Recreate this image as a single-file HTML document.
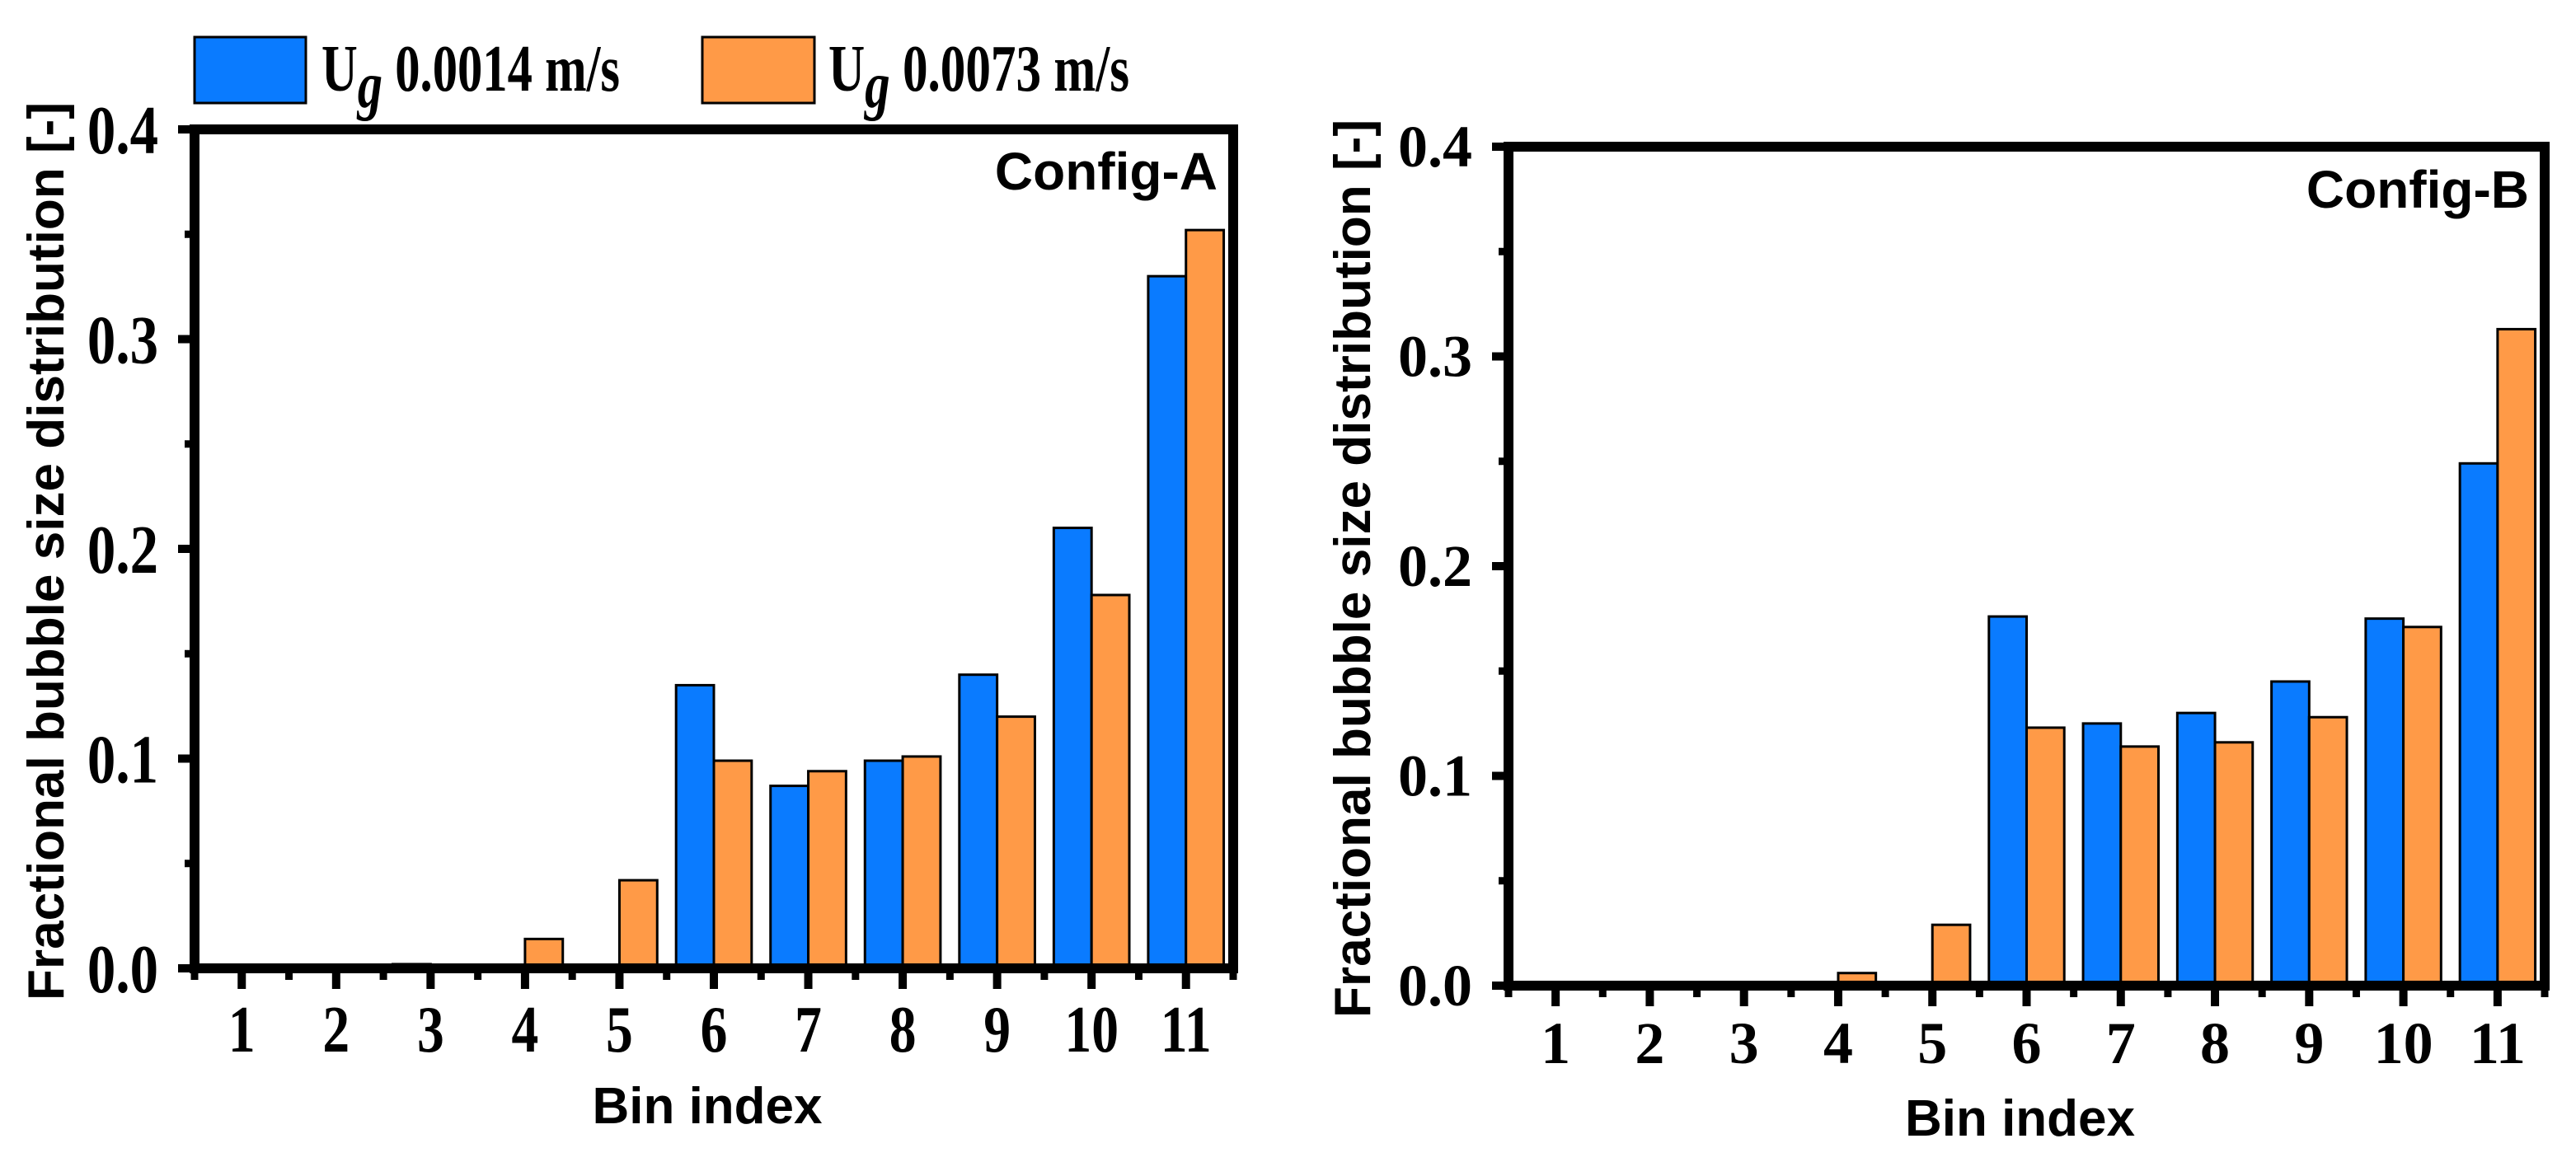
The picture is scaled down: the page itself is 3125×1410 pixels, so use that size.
<!DOCTYPE html>
<html><head><meta charset="utf-8">
<style>
html,body{margin:0;padding:0;background:#fff;}
svg{display:block;}
.tm{font-family:"Liberation Serif",serif;font-weight:bold;}
.ar{font-family:"Liberation Sans",sans-serif;font-weight:bold;}
</style></head>
<body>
<svg id="chart" width="3125" height="1410" viewBox="0 0 3125 1410" xmlns="http://www.w3.org/2000/svg">
  <g>
    <rect x="236" y="45" width="135" height="80" fill="#0A7BFF" stroke="#000" stroke-width="3"/>
    <text class="tm" x="390" y="110" font-size="80" textLength="362" lengthAdjust="spacingAndGlyphs">U<tspan font-style="italic" dy="20">g</tspan><tspan dy="-20"> 0.0014 m/s</tspan></text>
    <rect x="852" y="45" width="136" height="80" fill="#FF9A47" stroke="#000" stroke-width="3"/>
    <text class="tm" x="1005" y="110" font-size="80" textLength="365" lengthAdjust="spacingAndGlyphs">U<tspan font-style="italic" dy="20">g</tspan><tspan dy="-20"> 0.0073 m/s</tspan></text>
  </g>
  <g id="panelA"></g>
  <g id="panelB"></g>
</svg>
<script>
const categories = ["1","2","3","4","5","6","7","8","9","10","11"];
const yTicks = [0, 0.1, 0.2, 0.3, 0.4];
const yTickLabels = ["0.0","0.1","0.2","0.3","0.4"];
const configA_low  = [0, 0, 0.002, 0, 0, 0.135, 0.087, 0.099, 0.140, 0.210, 0.330];
const configA_high = [0, 0, 0.001, 0.014, 0.042, 0.099, 0.094, 0.101, 0.120, 0.178, 0.352];
const configB_low  = [0, 0, 0, 0, 0, 0.176, 0.125, 0.130, 0.145, 0.175, 0.249];
const configB_high = [0, 0, 0, 0.006, 0.029, 0.123, 0.114, 0.116, 0.128, 0.171, 0.313];

const NS = "http://www.w3.org/2000/svg";
function mk(tag, attrs, parent){
  const e = document.createElementNS(NS, tag);
  for (const k in attrs) e.setAttribute(k, attrs[k]);
  parent.appendChild(e);
  return e;
}

function drawPanel(g, opt, low, high){
  const L=opt.left, R=opt.right, T=opt.top, B=opt.bottom;
  const n = categories.length;
  const xs = v => L + (v - 0.5) / n * (R - L);
  const ys = v => B - v / 0.4 * (B - T);
  const bw = 0.4 * (R - L) / n;
  for (let i=0;i<n;i++){
    const cx = xs(i+1);
    const r1 = mk("rect",{x:cx-bw, y:ys(low[i]), width:bw, height:Math.max(0,B-ys(low[i])), fill:"#0A7BFF", stroke:"#000", "stroke-width":3}, g);
    
    
    const r2 = mk("rect",{x:cx, y:ys(high[i]), width:bw, height:Math.max(0,B-ys(high[i])), fill:"#FF9A47", stroke:"#000", "stroke-width":3}, g);
    
    
  }
  const fr = mk("rect",{x:L, y:T, width:R-L, height:B-T, fill:"none", stroke:"#000", "stroke-width":12}, g);
  
  
  for (let i=0;i<yTicks.length;i++){
    const y = ys(yTicks[i]);
    const t = mk("line",{x1:L-20, x2:L, y1:y, y2:y, stroke:"#000", "stroke-width":10}, g);
    
    
    const lb = mk("text",{x:0, y:0, "text-anchor":"end", "font-size":opt.yFont, class:"tm",
      transform:"translate("+(L-44)+","+(y+opt.yLabDy)+") scale("+opt.sx+",1)"}, g);
    lb.textContent = yTickLabels[i];
    
    
    if (i < yTicks.length-1){
      const ym = ys((yTicks[i]+yTicks[i+1])/2);
      const m = mk("line",{x1:L-12, x2:L, y1:ym, y2:ym, stroke:"#000", "stroke-width":9}, g);
      
      
    }
  }
  for (let i=0;i<n;i++){
    const x = xs(i+1);
    const t = mk("line",{x1:x, x2:x, y1:B, y2:B+25, stroke:"#000", "stroke-width":10}, g);
    
    
    const lb = mk("text",{x:0, y:0, "text-anchor":"middle", "font-size":opt.xFont, class:"tm",
      transform:"translate("+x+","+opt.xLabY+") scale("+opt.sx+",1)"}, g);
    lb.textContent = categories[i];
    
    
  }
  for (let i=0;i<=n;i++){
    const x = xs(i+0.5);
    const m = mk("line",{x1:x, x2:x, y1:B, y2:B+14, stroke:"#000", "stroke-width":9}, g);
    
    
  }
  const xt = mk("text",{x:(L+R)/2-8, y:opt.xTitleY, "text-anchor":"middle", "font-size":62, class:"ar"}, g);
  xt.textContent = "Bin index";
  
  
  const yt = mk("text",{x:0, y:0, "text-anchor":"middle", "font-size":62, class:"ar", textLength:1090, lengthAdjust:"spacingAndGlyphs",
    transform:"translate("+(opt.yTitleX+22)+","+opt.yTitleCy+") rotate(-90)"}, g);
  yt.textContent = "Fractional bubble size distribution [-]";
  
  
  const ct = mk("text",{x:opt.cfgX, y:opt.cfgY, "text-anchor":"end", "font-size":64, class:"ar"}, g);
  ct.textContent = opt.cfg;
  
  
}

drawPanel(document.getElementById("panelA"),
  {left:236, right:1496, top:157, bottom:1175, yFont:84, yLabDy:29, sx:0.82, xFont:80, xLabY:1276, xTitleY:1363, yTitleX:55, yTitleCy:669, cfg:"Config-A", cfgX:1477, cfgY:230},
  configA_low, configA_high);
drawPanel(document.getElementById("panelB"),
  {left:1830, right:3087, top:178, bottom:1196, yFont:72, yLabDy:24, sx:1, xFont:72, xLabY:1290, xTitleY:1378, yTitleX:1640, yTitleCy:690, cfg:"Config-B", cfgX:3068, cfgY:252},
  configB_low, configB_high);
</script>
</body></html>
